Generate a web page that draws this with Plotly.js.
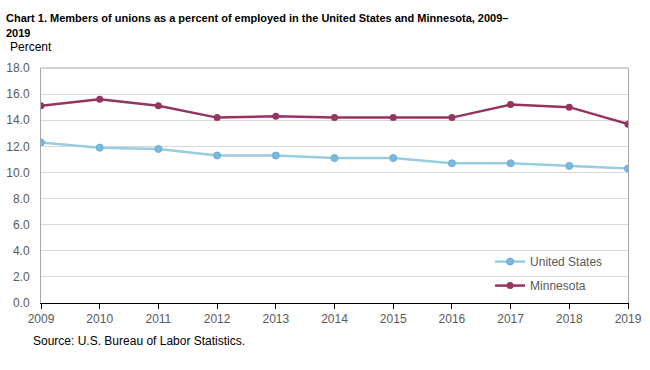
<!DOCTYPE html>
<html>
<head>
<meta charset="utf-8">
<script src="https://cdn.plot.ly/plotly-3.0.1.min.js"></script>
<style>html,body{margin:0;padding:0;background:#fff;}#chart{width:650px;height:370px;}</style>
</head>
<body>
<div id="chart"></div>
<script>
const years = ['2009','2010','2011','2012','2013','2014','2015','2016','2017','2018','2019'];
const unitedStates = [12.3, 11.9, 11.8, 11.3, 11.3, 11.1, 11.1, 10.7, 10.7, 10.5, 10.3];
const minnesota = [15.1, 15.6, 15.1, 14.2, 14.3, 14.2, 14.2, 14.2, 15.2, 15.0, 13.7];
const yTicks = [0, 2, 4, 6, 8, 10, 12, 14, 16, 18];

const usColor = '#99cce0';
const usMarker = '#7ab8dc';
const mnColor = '#963461';

const traces = [
  {x: years, y: unitedStates, name: 'United States', type: 'scatter', mode: 'lines+markers',
   legendgroup: 'a',
   line: {color: usColor, width: 2.5},
   marker: {color: usMarker, size: 7, line: {color: '#6aaed6', width: 1}}},
  {x: years, y: minnesota, name: 'Minnesota', type: 'scatter', mode: 'lines+markers',
   legendgroup: 'b',
   line: {color: mnColor, width: 2.5},
   marker: {color: mnColor, size: 7}}
];

const layout = {
  width: 650, height: 370,
  margin: {l: 41, r: 22, t: 68, b: 67},
  paper_bgcolor: '#fff', plot_bgcolor: '#fff',
  font: {family: 'Arial, Liberation Sans, sans-serif', size: 12, color: '#595959'},
  title: {
    text: '<b>Chart 1. Members of unions as a percent of employed in the United States and Minnesota, 2009–<br>2019</b>',
    x: 6/650, xanchor: 'left', y: 0.94, yanchor: 'top', yref: 'container',
    font: {family: 'Arial, Liberation Sans, sans-serif', size: 11, color: '#000'}
  },
  xaxis: {
    type: 'category', range: [0, 10],
    tickvals: years, ticktext: years,
    showline: true, linecolor: '#000', linewidth: 1,
    ticks: 'outside', ticklen: 5, tickcolor: '#000',
    showgrid: false, zeroline: false,
    tickfont: {size: 12, color: '#595959'}
  },
  yaxis: {
    range: [0, 18], tickvals: yTicks, tickformat: '.1f',
    showline: true, mirror: true, linecolor: '#a6a6a6', linewidth: 1,
    showgrid: true, gridcolor: '#d9d9d9', zeroline: false,
    ticks: '', ticklabelstandoff: 8, tickfont: {size: 12, color: '#595959'}
  },
  shapes: [
    {type: 'line', xref: 'paper', yref: 'paper', x0: 0, x1: 1, y0: 1, y1: 1,
     line: {color: '#a6a6a6', width: 1}}
  ],
  legend: {
    x: 0.765, y: 0.238, xanchor: 'left', yanchor: 'top',
    bgcolor: 'rgba(0,0,0,0)', traceorder: 'grouped', tracegroupgap: 5,
    font: {size: 12, color: '#595959'}
  },
  annotations: [
    {text: 'Percent', xref: 'paper', yref: 'paper', x: -33/587, y: 1 + 21/235,
     xanchor: 'left', yanchor: 'middle', showarrow: false,
     font: {size: 12, color: '#000'}},
    {text: 'Source: U.S. Bureau of Labor Statistics.', xref: 'paper', yref: 'paper',
     x: -10/587, y: -38/235, xanchor: 'left', yanchor: 'middle', showarrow: false,
     font: {size: 12, color: '#000'}}
  ],
  showlegend: true
};

Plotly.newPlot('chart', traces, layout, {displayModeBar: false, staticPlot: true});
</script>
</body>
</html>
